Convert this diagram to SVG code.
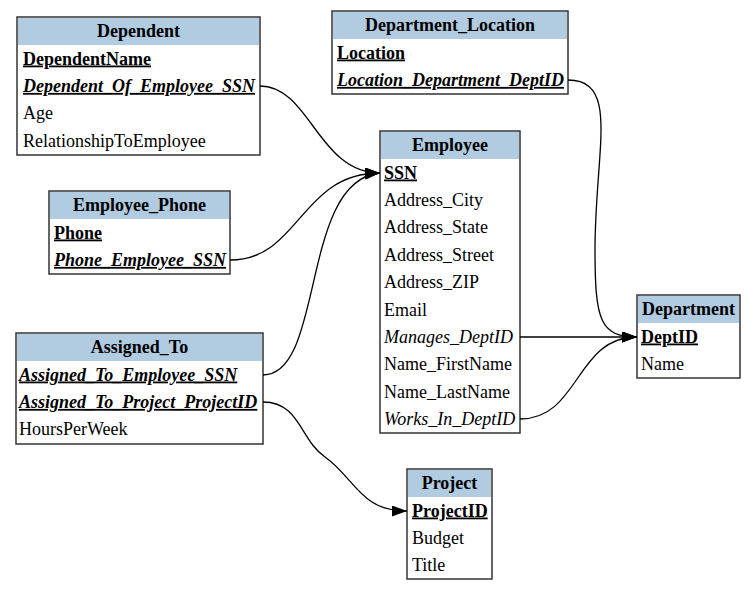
<svg xmlns="http://www.w3.org/2000/svg" width="756" height="592" viewBox="0 0 756 592">
<defs>
<marker id="arr" markerUnits="userSpaceOnUse" markerWidth="15" markerHeight="11" refX="15" refY="5.5" orient="auto">
<path d="M0,0 L15,5.5 L0,11 z" fill="#000"/>
</marker>
<style>
.box{fill:#fff;stroke:#333;stroke-width:1.5}
.hd{fill:#b1cbe0}
text{font-family:"Liberation Serif","Times New Roman",serif;font-size:18px;fill:#000}
.t{font-weight:bold;text-anchor:middle}
.k{font-weight:bold;text-decoration:underline}
.fk{font-weight:bold;font-style:italic;text-decoration:underline}
.i{font-style:italic}
.e{fill:none;stroke:#000;stroke-width:1.3}
</style>
</defs>
<rect width="756" height="592" fill="#fff"/>

<g id="Dependent">
<rect class="box" x="17" y="17" width="243" height="138"/>
<rect class="hd" x="18" y="18" width="241" height="27"/>
<text class="t" x="138.5" y="37">Dependent</text>
<text class="k" x="23" y="64.5">DependentName</text>
<text class="fk" x="23" y="91.9">Dependent_Of_Employee_SSN</text>
<text x="23" y="119.3">Age</text>
<text x="23" y="146.7">RelationshipToEmployee</text>
</g>

<g id="Department_Location">
<rect class="box" x="332" y="11" width="236" height="83"/>
<rect class="hd" x="333" y="12" width="234" height="27"/>
<text class="t" x="450" y="31">Department_Location</text>
<text class="k" x="337" y="58.5">Location</text>
<text class="fk" x="337" y="85.9">Location_Department_DeptID</text>
</g>

<g id="Employee">
<rect class="box" x="380" y="131" width="140" height="302"/>
<rect class="hd" x="381" y="132" width="138" height="27"/>
<text class="t" x="450" y="151">Employee</text>
<text class="k" x="384" y="178.5">SSN</text>
<text x="384" y="205.9">Address_City</text>
<text x="384" y="233.3">Address_State</text>
<text x="384" y="260.7">Address_Street</text>
<text x="384" y="288.1">Address_ZIP</text>
<text x="384" y="315.5">Email</text>
<text class="i" x="384" y="342.9">Manages_DeptID</text>
<text x="384" y="370.3">Name_FirstName</text>
<text x="384" y="397.7">Name_LastName</text>
<text class="i" x="384" y="425.1">Works_In_DeptID</text>
</g>

<g id="Employee_Phone">
<rect class="box" x="49" y="191" width="181" height="83"/>
<rect class="hd" x="50" y="192" width="179" height="27"/>
<text class="t" x="139.5" y="211">Employee_Phone</text>
<text class="k" x="54" y="238.5">Phone</text>
<text class="fk" x="54" y="265.9">Phone_Employee_SSN</text>
</g>

<g id="Assigned_To">
<rect class="box" x="16" y="333" width="247" height="111"/>
<rect class="hd" x="17" y="334" width="245" height="27"/>
<text class="t" x="139.5" y="353">Assigned_To</text>
<text class="fk" x="19" y="380.5">Assigned_To_Employee_SSN</text>
<text class="fk" x="19" y="407.9">Assigned_To_Project_ProjectID</text>
<text x="19" y="435.3">HoursPerWeek</text>
</g>

<g id="Department">
<rect class="box" x="637" y="295" width="103" height="83"/>
<rect class="hd" x="638" y="296" width="101" height="27"/>
<text class="t" x="688.5" y="315">Department</text>
<text class="k" x="641" y="342.5">DeptID</text>
<text x="641" y="369.9">Name</text>
</g>

<g id="Project">
<rect class="box" x="407" y="469" width="85" height="110"/>
<rect class="hd" x="408" y="470" width="83" height="27"/>
<text class="t" x="449.5" y="489">Project</text>
<text class="k" x="412" y="516.5">ProjectID</text>
<text x="412" y="543.9">Budget</text>
<text x="412" y="571.3">Title</text>
</g>

<g id="connectors">
<path class="e" marker-end="url(#arr)" d="M260,86 C310,86 318,173 380,173"/>
<path class="e" marker-end="url(#arr)" d="M230,260 C300,260 300,173 380,173"/>
<path class="e" marker-end="url(#arr)" d="M263,375 C325,375 300,180 380,173"/>
<path class="e" marker-end="url(#arr)" d="M568,80 C620,80 595,150 595,250 C595,320 600,337 637,337"/>
<path class="e" marker-end="url(#arr)" d="M520,337 L637,337"/>
<path class="e" marker-end="url(#arr)" d="M520,419 C580,419 575,337 637,337"/>
<path class="e" marker-end="url(#arr)" d="M263,402 C300,402 300,440 325,457 C355,478 360,511 407,511"/>
</g>
</svg>
